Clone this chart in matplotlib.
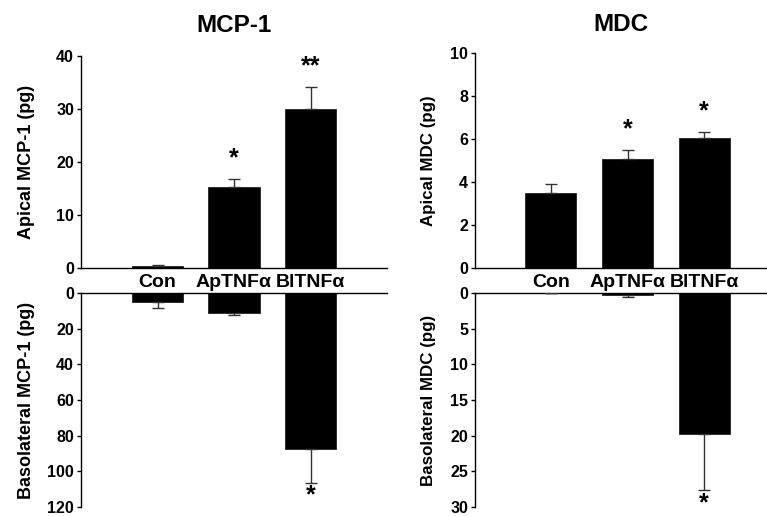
import matplotlib
matplotlib.use("Agg")
import matplotlib.pyplot as plt

plt.rcParams['font.family'] = ['Liberation Sans', 'DejaVu Sans']
plt.rcParams['font.weight'] = 'bold'

categories = ["Con", "ApTNFα", "BlTNFα"]

mcp_apical = [0.3, 15.3, 30.0]
mcp_apical_err = [0.2, 1.5, 4.1]
mcp_apical_sig = ["", "*", "**"]
mcp_baso = [5.0, 11.0, 87.5]
mcp_baso_err = [3.5, 1.3, 19.0]
mcp_baso_sig = ["", "", "*"]

mdc_apical = [3.49, 5.07, 6.05]
mdc_apical_err = [0.41, 0.42, 0.28]
mdc_apical_sig = ["", "*", "*"]
mdc_baso = [0.0, 0.25, 19.8]
mdc_baso_err = [0.0, 0.3, 7.8]
mdc_baso_sig = ["", "", "*"]

W, H = 767, 516
fig = plt.figure(figsize=(W / 100, H / 100), dpi=100)


def px_axes(x0, x1, ytop, ybot):
    return fig.add_axes([x0 / W, (H - ybot) / H, (x1 - x0) / W, (ybot - ytop) / H])


x = list(range(len(categories)))
bw = 0.667


def style_axes(ax, ylabel, lsize):
    ax.spines['right'].set_visible(False)
    for s in ax.spines.values():
        s.set_linewidth(1.0)
    ax.tick_params(axis='y', direction='out', length=3, width=1, labelsize=11.5, pad=2)
    for t in ax.get_yticklabels():
        t.set_fontweight('bold')
    ax.set_ylabel(ylabel, fontsize=lsize, fontweight='bold')


def draw_top(ax, vals, errs, sigs, ymax, yticks, ylabel, lsize, xr, sig_off):
    ax.bar(x, vals, width=bw, color='black', edgecolor='#222222', linewidth=0.6, zorder=2)
    ax.errorbar(x, vals, yerr=[[0] * len(errs), errs], fmt='none', ecolor='#333333',
                elinewidth=1.0, capsize=4, capthick=1.0, zorder=3)
    for xi, v, e, s in zip(x, vals, errs, sigs):
        if s:
            ax.text(xi, v + e + sig_off, s, ha='center', va='bottom', fontsize=18, fontweight='bold')
    ax.set_ylim(0, ymax)
    ax.set_yticks(yticks)
    ax.set_xlim(*xr)
    ax.spines['top'].set_visible(False)
    ax.set_xticks(x)
    ax.set_xticklabels(categories, fontsize=14, fontweight='bold')
    ax.tick_params(axis='x', length=0, pad=4)
    style_axes(ax, ylabel, lsize)


def draw_bottom(ax, vals, errs, sigs, ymax, yticks, ylabel, lsize, xr, sig_off):
    ax.bar(x, vals, width=bw, color='black', edgecolor='#222222', linewidth=0.6, zorder=2)
    ax.errorbar(x, vals, yerr=[[0] * len(errs), errs], fmt='none', ecolor='#333333',
                elinewidth=1.0, capsize=4, capthick=1.0, zorder=3)
    for xi, v, e, s in zip(x, vals, errs, sigs):
        if s:
            ax.text(xi, v + e + sig_off, s, ha='center', va='center', fontsize=18, fontweight='bold')
    ax.set_ylim(ymax, 0)
    ax.set_yticks(yticks)
    ax.set_xlim(*xr)
    ax.spines['bottom'].set_visible(False)
    ax.set_xticks([])
    style_axes(ax, ylabel, lsize)


# MCP-1
ax1 = px_axes(81, 387, 56, 268)
draw_top(ax1, mcp_apical, mcp_apical_err, mcp_apical_sig, 40, [0, 10, 20, 30, 40],
         "Apical MCP-1 (pg)", 13, (-1.0, 3.0), 1.6)
ax1.set_title("MCP-1", fontsize=17.5, fontweight='bold', pad=17.5)
ax1.yaxis.set_label_coords(-0.15, 0.5)

ax2 = px_axes(81, 387, 293, 507)
draw_bottom(ax2, mcp_baso, mcp_baso_err, mcp_baso_sig, 120, [0, 20, 40, 60, 80, 100, 120],
            "Basolateral MCP-1 (pg)", 13, (-1.0, 3.0), 7)
ax2.yaxis.set_label_coords(-0.15, 0.5)

# MDC
ax3 = px_axes(475, 767, 53, 268)
draw_top(ax3, mdc_apical, mdc_apical_err, mdc_apical_sig, 10, [0, 2, 4, 6, 8, 10],
         "Apical MDC (pg)", 12.2, (-0.99, 2.82), 0.4)
ax3.set_title("MDC", fontsize=17.5, fontweight='bold', pad=15.5)
ax3.yaxis.set_label_coords(-0.135, 0.5)

ax4 = px_axes(475, 767, 293, 507)
draw_bottom(ax4, mdc_baso, mdc_baso_err, mdc_baso_sig, 30, [0, 5, 10, 15, 20, 25, 30],
            "Basolateral MDC (pg)", 12.2, (-0.99, 2.82), 1.95)
ax4.yaxis.set_label_coords(-0.135, 0.5)

for ax in (ax2, ax4):
    for t in ax.texts:
        t.set_clip_on(False)

fig.savefig("out.png", dpi=100)
